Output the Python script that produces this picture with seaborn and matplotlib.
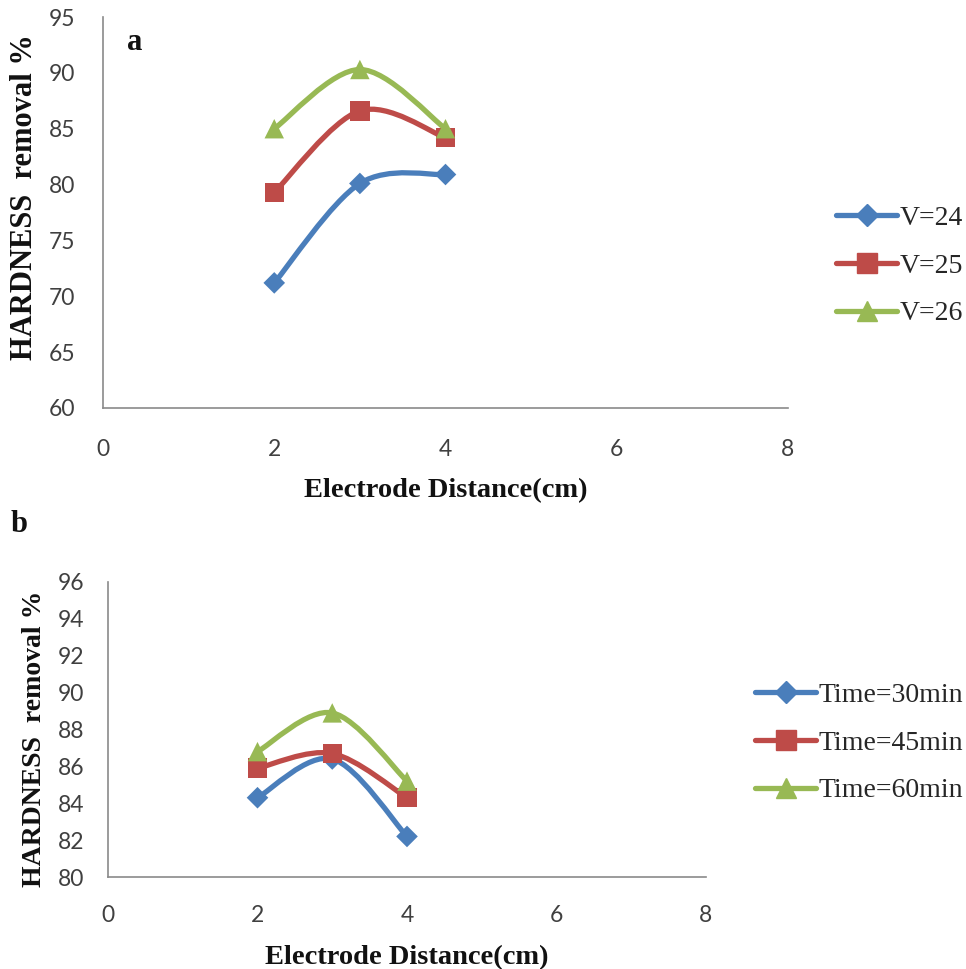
import numpy as np
import pandas as pd
import matplotlib
matplotlib.use("Agg")
import matplotlib.pyplot as plt
import seaborn as sns
from matplotlib.path import Path
from matplotlib.patches import PathPatch
from matplotlib.lines import Line2D

# ---------------- data ----------------
distance = [2, 3, 4]
v24 = [71.2, 80.1, 80.9]
v25 = [79.3, 86.6, 84.2]
v26 = [85.0, 90.3, 85.0]
t30 = [84.3, 86.4, 82.2]
t45 = [85.9, 86.7, 84.3]
t60 = [86.8, 88.9, 85.2]
labels_a = ["V=24", "V=25", "V=26"]
labels_b = ["Time=30min", "Time=45min", "Time=60min"]
xticks = [0, 2, 4, 6, 8]
yticks_a = [60, 65, 70, 75, 80, 85, 90, 95]
yticks_b = [80, 82, 84, 86, 88, 90, 92, 94, 96]
xlabel = "Electrode Distance(cm)"
ylabel = "HARDNESS  removal %"

colors = ["#4A7EBB", "#BE4B48", "#98B954"]
markers = ["D", "s", "^"]
msizes = [11, 14, 14]

sns.set_theme(style="white")
plt.rcParams["font.family"] = ["Lato", "DejaVu Sans"]

W, H = 966, 969
fig = plt.figure(figsize=(W / 100, H / 100), dpi=100)


def px_axes(l, r, t, b):
    return fig.add_axes([l / W, 1 - b / H, (r - l) / W, (b - t) / H])


def smooth_path(x, y):
    pts = np.column_stack([x, y]).astype(float)
    n = len(pts)
    verts = [pts[0]]
    codes = [Path.MOVETO]
    for i in range(n - 1):
        p0 = pts[max(i - 1, 0)]
        p1 = pts[i]
        p2 = pts[i + 1]
        p3 = pts[min(i + 2, n - 1)]
        verts += [p1 + (p2 - p0) / 6, p2 - (p3 - p1) / 6, p2]
        codes += [Path.CURVE4] * 3
    return Path(verts, codes)


def panel(ax, series, labels, yticks, ylim, xpad, ypad, ylab_xy, xlab_y,
          ylab_size, legend_anchor):
    df = pd.concat([pd.DataFrame({"x": distance, "y": s, "series": lab})
                    for s, lab in zip(series, labels)])
    for s, c in zip(series, colors):
        ax.add_patch(PathPatch(smooth_path(distance, s), fc="none", ec=c,
                               lw=3.8, capstyle="round", joinstyle="round", zorder=2))
    sns.scatterplot(data=df, x="x", y="y", hue="series", style="series",
                    size="series", palette=dict(zip(labels, colors)),
                    markers=dict(zip(labels, markers)),
                    sizes=dict(zip(labels, [m ** 2 for m in msizes])),
                    linewidth=0, legend=False, ax=ax, zorder=3)
    ax.set_xlim(0, 8)
    ax.set_ylim(*ylim)
    ax.set_xticks(xticks)
    ax.set_yticks(yticks)
    ax.tick_params(axis="both", length=0, labelsize=16.5, labelcolor="#404040")
    ax.tick_params(axis="x", pad=xpad)
    ax.tick_params(axis="y", pad=ypad)
    for sp in ["top", "right"]:
        ax.spines[sp].set_visible(False)
    for sp in ["left", "bottom"]:
        ax.spines[sp].set_color("#8a8a8a")
        ax.spines[sp].set_linewidth(1.2)
    ax.set_xlabel(xlabel, family="Liberation Serif", fontweight="bold",
                  fontsize=20.5, color="#111111", va="top")
    ax.xaxis.set_label_coords(0.5, xlab_y)
    ax.set_ylabel(ylabel, family="Liberation Serif", fontweight="bold",
                  fontsize=ylab_size, color="#111111")
    ax.yaxis.set_label_coords(*ylab_xy)
    handles = [Line2D([], [], color=c, lw=3.8, marker=m, ms=ms)
               for c, m, ms in zip(colors, markers, msizes)]
    fig.legend(handles, labels, loc="center left",
               bbox_to_anchor=(legend_anchor[0] / W, 1 - legend_anchor[1] / H),
               frameon=False, prop={"family": "Liberation Serif", "size": 20},
               handlelength=2.2, handletextpad=0.1, labelspacing=0.8,
               borderpad=0, borderaxespad=0)


ax1 = px_axes(103, 788, 17, 408)
panel(ax1, [v24, v25, v26], labels_a, yticks_a, (60, 95), xpad=22, ypad=20,
      ylab_xy=(-0.094, 0.54), xlab_y=-0.178, ylab_size=22,
      legend_anchor=(836, 266))

ax2 = px_axes(108, 706, 582, 877)
panel(ax2, [t30, t45, t60], labels_b, yticks_b, (80, 96), xpad=20, ypad=17,
      ylab_xy=(-0.102, 0.47), xlab_y=-0.23, ylab_size=20,
      legend_anchor=(755, 743))

fig.text(127 / W, 1 - 42 / H, "a", family="Liberation Serif", fontweight="bold",
         fontsize=22, va="center", ha="left", color="#111111")
fig.text(11 / W, 1 - 524 / H, "b", family="Liberation Serif", fontweight="bold",
         fontsize=22, va="center", ha="left", color="#111111")

fig.savefig("out.png", dpi=100, facecolor="white")
